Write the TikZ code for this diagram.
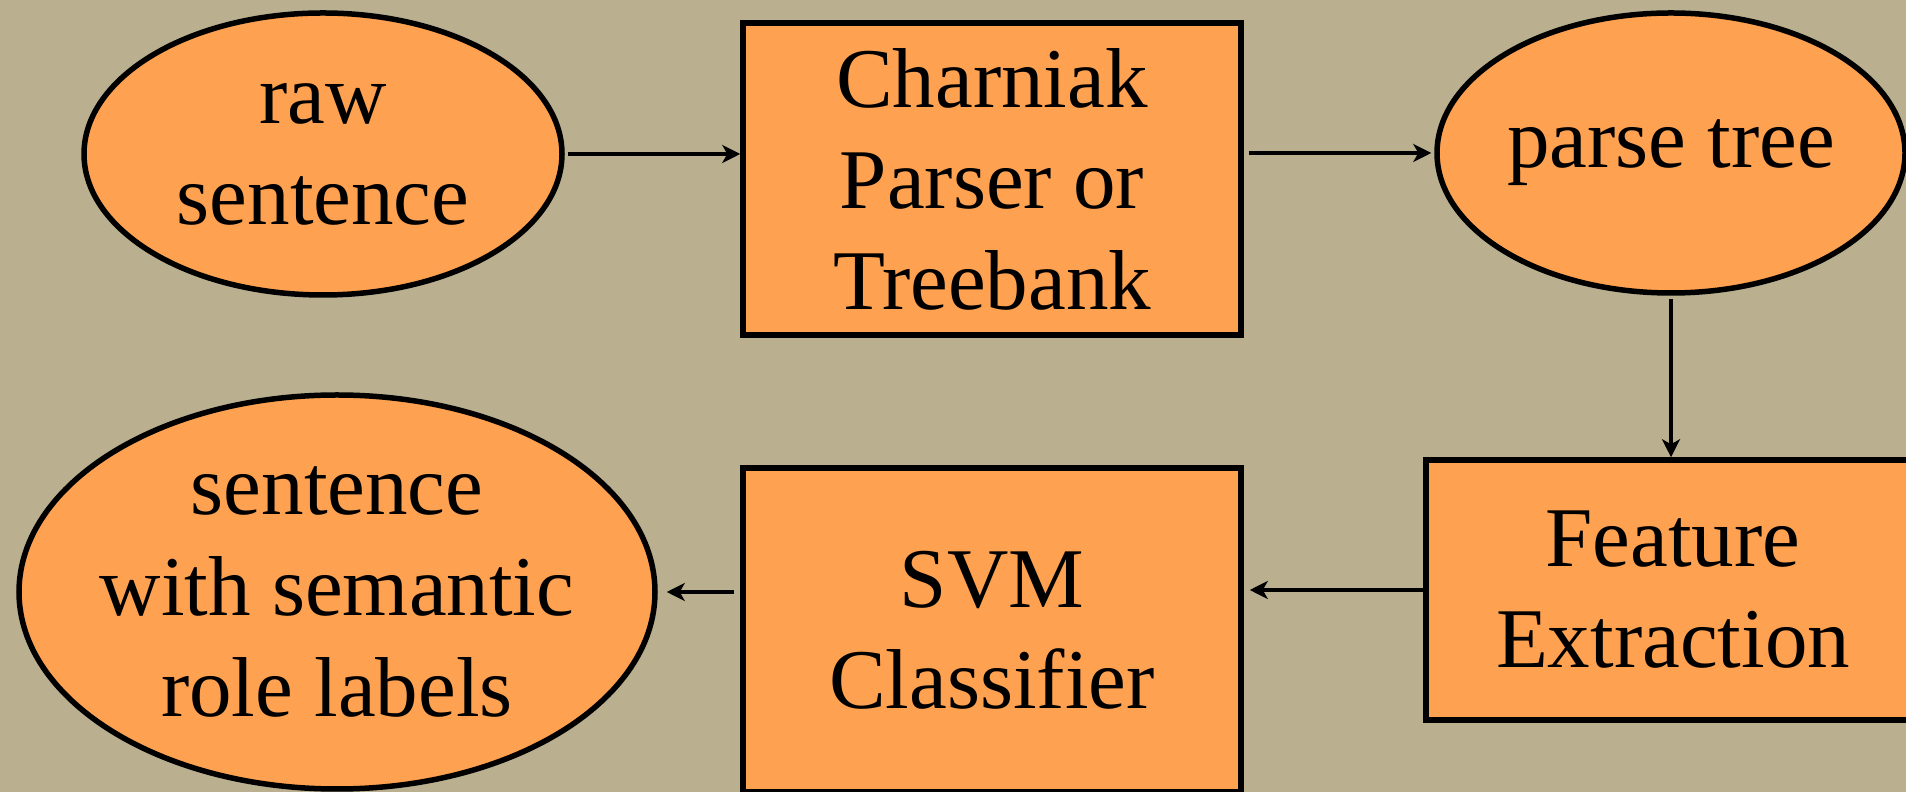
\documentclass[tikz,border=0pt]{standalone}
\usepackage{fontspec}
\setmainfont{Liberation Serif}
\usetikzlibrary{shapes.geometric,arrows.meta}
\definecolor{bgtan}{RGB}{186,176,144}
\definecolor{boxorange}{RGB}{254,161,80}
\tikzset{
  base/.style={draw=black, line width=5.5pt, fill=boxorange, inner sep=0pt, align=center,
    font=\fontsize{85}{101}\selectfont},
  ellbox/.style={base, ellipse},
  recbox/.style={base, rectangle},
  txt/.style={inner sep=0pt, align=center, font=\fontsize{85}{101}\selectfont},
  arr/.style={draw=black, line width=4.5pt, -{Stealth[length=18pt,width=18pt,inset=5pt]}}
}
\begin{document}
\begin{tikzpicture}[x=1pt,y=1pt]
\useasboundingbox (0,0) rectangle (1906,792);
\clip (0,0) rectangle (1906,792);
\fill[bgtan] (0,0) rectangle (1906,792);
\node[ellbox, minimum width=478pt, minimum height=282pt] (raw) at (323,638) {};
\node[txt] (rawt) at (raw.center) {raw\\sentence};
\node[recbox, minimum width=498pt, minimum height=312pt] (charniak) at (992,613) {Charniak\\Parser or\\Treebank};
\node[ellbox, minimum width=468pt, minimum height=280pt] (parse) at (1671,639) {};
\node[txt] (parset) at (parse.center) {parse tree};
\node[recbox, minimum width=494pt, minimum height=260pt] (feature) at (1673,202) {Feature\\Extraction};
\node[recbox, minimum width=498pt, minimum height=324pt] (svm) at (992,162) {SVM\\Classifier};
\node[ellbox, minimum width=636pt, minimum height=394pt] (sent) at (337,200) {};
\node[txt] (sentt) at (sent.center) {sentence\\with semantic\\role labels};
\draw[arr, shorten <=3pt] (raw.east) -- (raw.east -| charniak.west);
\draw[arr, shorten <=5pt, shorten >=3pt] (charniak.east |- parse.west) -- (parse.west);
\draw[arr, shorten <=3pt] (parse.south) -- (parse.south |- feature.north);
\draw[arr, shorten >=6pt] (feature.west) -- (svm.east |- feature.west);
\draw[arr, shorten <=6pt, shorten >=9pt] (svm.west |- sent.east) -- (sent.east);
\end{tikzpicture}
\end{document}
